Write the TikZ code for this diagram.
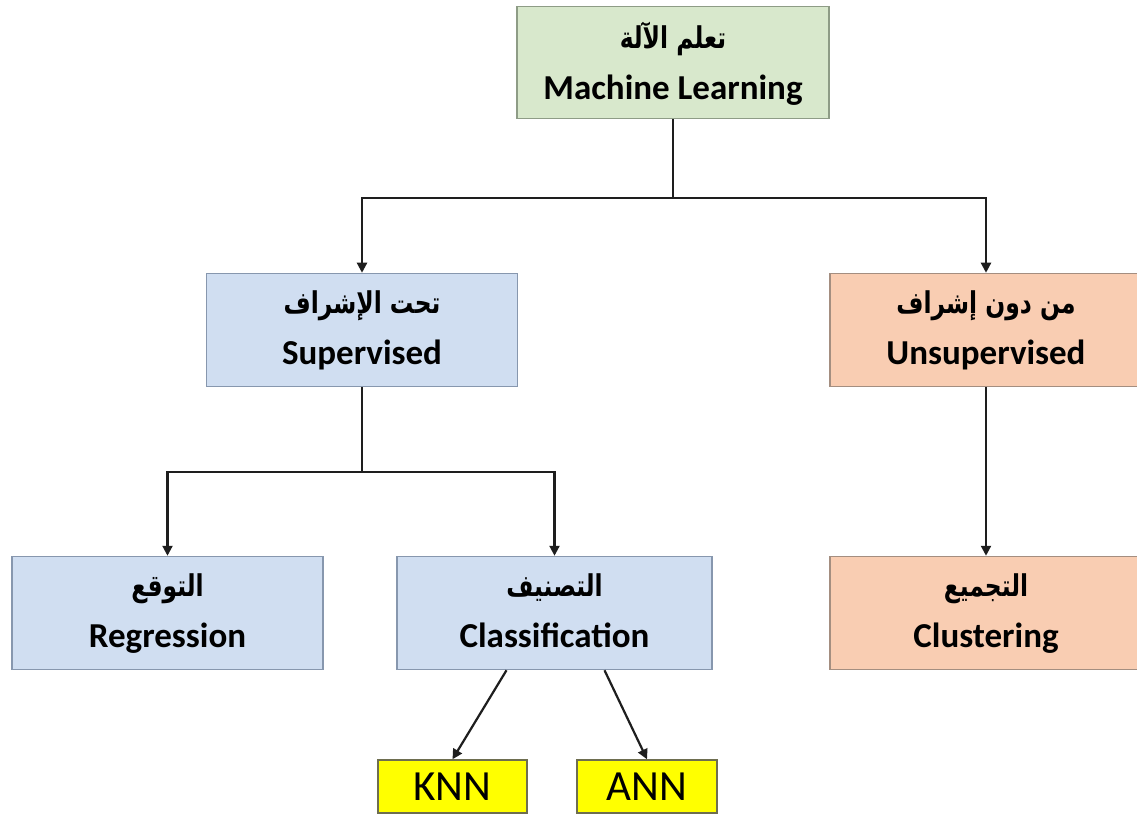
\documentclass[tikz,border=0pt]{standalone}
\usepackage{fontspec}
\setmainfont{Carlito}
\newfontfamily\arabicfont[Script=Arabic,FakeStretch=0.78]{DejaVu Sans}
\TeXXeTstate=1
\usetikzlibrary{arrows.meta}

\definecolor{mlfill}{HTML}{D8E8CC}
\definecolor{mlline}{HTML}{8E9C86}
\definecolor{supfill}{HTML}{D0DEF1}
\definecolor{supline}{HTML}{8797AE}
\definecolor{unsfill}{HTML}{F9CDB2}
\definecolor{unsline}{HTML}{A48E80}
\definecolor{leaffill}{HTML}{FFFF00}
\definecolor{leafline}{HTML}{6E6E50}
\definecolor{wire}{HTML}{1E1E1E}

% one Arabic line, set right to left
\newcommand\arline[1]{{\arabicfont\fontsize{30}{34}\selectfont\beginR #1\endR}}

\tikzset{
  box/.style={draw=#1, line width=1.5pt, align=center, inner sep=0pt,
    text depth=4pt, font=\fontsize{35}{51}\selectfont\bfseries},
  wide/.style={minimum width=#1, minimum height=113pt},
  leaf/.style={draw=leafline, fill=leaffill, line width=1.5pt, inner sep=0pt,
    minimum height=53pt, font=\fontsize{43}{50}\selectfont},
  conn/.style={line width=2.2pt, draw=wire},
  arr/.style={conn, -{Triangle[length=10pt,width=10pt]}}
}

\begin{document}
\begin{tikzpicture}[x=1pt,y=-1pt]
\useasboundingbox[fill=white] (0,0) rectangle (1137,818);

% top level
\node[box=mlline, fill=mlfill, wide=312pt, minimum height=112pt] (ml) at (673,62.5)
  {\arline{تعلم الآلة}\\Machine Learning};

% second level
\node[box=supline, fill=supfill, wide=311pt] (sup) at (362,330)
  {\arline{تحت الإشراف}\\Supervised};
\node[box=unsline, fill=unsfill, wide=312pt] (uns) at (986,330)
  {\arline{من دون إشراف}\\Unsupervised};

% third level
\node[box=supline, fill=supfill, wide=311pt] (reg) at (167.5,613)
  {\arline{التوقع}\\Regression};
\node[box=supline, fill=supfill, wide=315pt] (cls) at (554.5,613)
  {\arline{التصنيف}\\Classification};
\node[box=unsline, fill=unsfill, wide=312pt] (clu) at (986,613)
  {\arline{التجميع}\\Clustering};

% algorithms
\node[leaf, minimum width=149pt] (knn) at (452.5,786.5) {KNN};
\node[leaf, minimum width=140pt] (ann) at (647,786.5) {ANN};

% connectors
\draw[conn] (ml.south) -- ++(0,79) coordinate (j1);
\draw[arr] (j1) -| (sup.north);
\draw[arr] (j1) -| (uns.north);

\draw[conn] (sup.south) -- ++(0,85) coordinate (j2);
\draw[arr] (j2) -| (reg.north);
\draw[arr] (j2) -| (cls.north);

\draw[arr] (uns.south) -- (clu.north);

\draw[arr] ([xshift=-48pt]cls.south) -- (knn.north);
\draw[arr] ([xshift=50pt]cls.south) -- (ann.north);
\end{tikzpicture}
\end{document}
